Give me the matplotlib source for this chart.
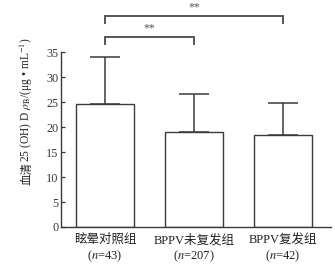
import numpy as np
from matplotlib import pyplot as plt

plt.rcParams['mathtext.fontset'] = 'stix'
plt.rcParams['font.family'] = ['Liberation Serif', 'Noto Sans CJK SC']

# 数据
groups = ['眩晕对照组', 'BPPV未复发组', 'BPPV复发组']
counts = ['43', '207', '42']
means = [24.6, 19.0, 18.4]
sds = [9.5, 7.6, 6.5]
yticks = [0, 5, 10, 15, 20, 25, 30, 35]
# 显著性标记: (组1, 组2, 高度)
sig_pairs = [(0, 2, 42.3), (0, 1, 38.1)]
sig_text = '**'

edge = '#3a3a3a'
cjk = ['Noto Sans CJK SC', 'DejaVu Sans']

fig = plt.figure(figsize=(3.35, 2.65), dpi=100)
ax = fig.add_axes([0.182, 0.1434, 0.806, 0.660])

x = np.arange(len(groups))
ax.bar(x, means, width=0.65, color='white', edgecolor=edge, linewidth=1.0, zorder=2)
ax.errorbar(x, means, yerr=[np.zeros(len(sds)), sds], fmt='none',
            ecolor=edge, elinewidth=1.1, capsize=10.5, capthick=1.1, zorder=1)

ax.set_xlim(-0.494, 2.54)
ax.set_ylim(0, 35)
ax.set_yticks(yticks)
ax.tick_params(axis='y', direction='in', length=3, width=0.9, pad=2,
               labelsize=8.8, colors=edge)
ax.tick_params(axis='x', length=0, labelbottom=False)
for s in ['top', 'right']:
    ax.spines[s].set_visible(False)
for s in ['left', 'bottom']:
    ax.spines[s].set_color(edge)
    ax.spines[s].set_linewidth(1.0)

# 分组标签
for i in range(len(groups)):
    ax.text(x[i], -2.6, groups[i], ha='center', va='center', fontsize=9.0,
            family=['Liberation Serif', 'Noto Sans CJK SC'], color='#222222',
            clip_on=False)
    ax.text(x[i], -5.9, r'($n$=' + counts[i] + ')', ha='center', va='center',
            fontsize=9.0, color='#222222', clip_on=False)

# 显著性括号
for a, b, h in sig_pairs:
    ax.plot([x[a], x[a], x[b], x[b]], [h - 1.5, h, h, h - 1.5], color='#555555',
            linewidth=1.4, clip_on=False, solid_joinstyle='miter')
    ax.text((x[a] + x[b]) / 2, h + 0.5, sig_text, ha='center', va='bottom',
            fontsize=8.5, color='#555555', clip_on=False)

# y轴标签
t1 = fig.text(0.09, 0.302, '血清', rotation=90, rotation_mode='anchor',
              ha='left', va='baseline', fontsize=8.3, family=cjk, color='#222222')
fig.canvas.draw()
bb = t1.get_window_extent()
fig.text(0.09, bb.y1 / fig.bbox.height, r'25 (OH) D $\rho_{\rm B}$/(μg • mL$^{-1}$)',
         rotation=90, rotation_mode='anchor', ha='left', va='baseline',
         fontsize=8.3, color='#222222')

plt.savefig('out.png', dpi=100)
